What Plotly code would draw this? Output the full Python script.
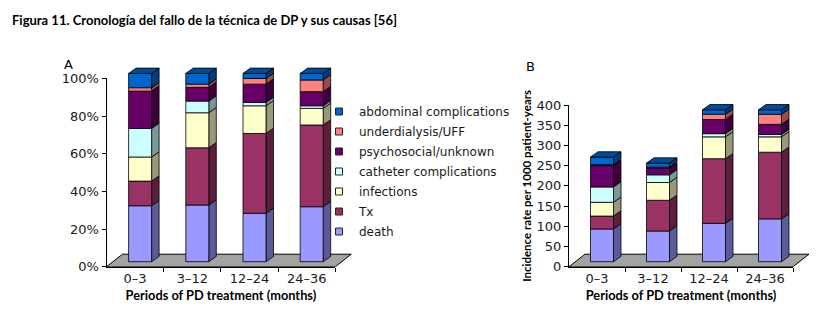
import plotly.graph_objects as go

# ---------------- data ----------------
categories = ["0–3", "3–12", "12–24", "24–36"]
series_names = ["death", "Tx", "infections", "catheter complications",
                "psychosocial/unknown", "underdialysis/UFF", "abdominal complications"]
series_colors = ["#9999FF", "#993366", "#FFFFCC", "#CCFFFF", "#660066", "#FF8080", "#0066CC"]

# Panel A: percentage of technique failures by cause
A_death = [29.7, 30.1, 25.7, 29.2]
A_tx = [13.1, 30.4, 42.4, 43.4]
A_infections = [12.8, 18.6, 14.7, 8.8]
A_catheter = [15.2, 6.2, 1.8, 1.4]
A_psychosocial = [19.8, 7.3, 9.7, 7.5]
A_underdialysis = [1.8, 1.7, 3.0, 6.2]
A_abdominal = [7.6, 5.7, 2.7, 3.5]

# Panel B: incidence rate per 1000 patient-years
B_death = [81, 76, 95, 106]
B_tx = [32, 76, 160, 165]
B_infections = [34, 44, 54, 38]
B_catheter = [38, 19, 8, 6]
B_psychosocial = [53, 17, 35, 25]
B_underdialysis = [2, 2, 13, 25]
B_abdominal = [19, 10, 11, 11]

A_ticks = [0, 20, 40, 60, 80, 100]
B_ticks = [0, 50, 100, 150, 200, 250, 300, 350, 400]

A_series = [A_death, A_tx, A_infections, A_catheter, A_psychosocial, A_underdialysis, A_abdominal]
B_series = [B_death, B_tx, B_infections, B_catheter, B_psychosocial, B_underdialysis, B_abdominal]

# ---------------- geometry / style ----------------
PAGE_OFF = 8                     # default body margin of the html page
W, H = 833 - PAGE_OFF, 328 - PAGE_OFF
TICK_FONT = dict(family="DejaVu Sans", size=13, color="#1a1a1a")
FLOOR_COLOR = "#A3A3A3"
EDGE = "#000000"


def shade(hexcol, f):
    h = hexcol.lstrip("#")
    r, g, b = (int(h[i:i + 2], 16) for i in (0, 2, 4))
    return "rgb(%d,%d,%d)" % (int(r * f), int(g * f), int(b * f))


def xd(px):
    return (px - PAGE_OFF) / W


def yd(px):
    return 1 - (px - PAGE_OFF) / H


def add_poly(fig, xs, ys, color, xa, ya, lw=0.8):
    fig.add_trace(go.Scatter(x=xs, y=ys, mode="lines", fill="toself", fillcolor=color,
                             line=dict(color=EDGE, width=lw), hoverinfo="skip",
                             showlegend=False, xaxis=xa, yaxis=ya))


def draw_panel(fig, series, xa, ya, ppx, ppy):
    # depth offsets in pixels converted to data units
    fdx, fdy = 16 / ppx, 12.5 / ppy        # floor depth
    ox, oy = 5 / ppx, 5 / ppy              # front face offset
    bdx, bdy = 7.5 / ppx, 5.3 / ppy        # bar depth
    w = 23 / ppx
    n = len(categories)
    # floor
    add_poly(fig, [-0.5, n - 0.5, n - 0.5 + fdx, -0.5 + fdx, -0.5],
             [0, 0, fdy, fdy, 0], FLOOR_COLOR, xa, ya, lw=1)
    cum = [0.0] * n
    for s_idx, vals in enumerate(series):
        col = series_colors[s_idx]
        fx, fy, sx, sy = [], [], [], []
        for i, v in enumerate(vals):
            b = cum[i] + oy
            t = cum[i] + v + oy
            xl = i + ox - w / 2
            xr = i + ox + w / 2
            fx += [xl, xr, xr, xl, xl, None]
            fy += [b, b, t, t, b, None]
            sx += [xr, xr + bdx, xr + bdx, xr, xr, None]
            sy += [b, b + bdy, t + bdy, t, b, None]
            cum[i] += v
        add_poly(fig, sx, sy, shade(col, 0.6), xa, ya)
        add_poly(fig, fx, fy, col, xa, ya)
    # top faces of the highest segment
    top_col = shade(series_colors[-1], 0.75)
    tx, ty = [], []
    for i in range(n):
        t = cum[i] + oy
        xl = i + ox - w / 2
        xr = i + ox + w / 2
        tx += [xl, xr, xr + bdx, xl + bdx, xl, None]
        ty += [t, t, t + bdy, t + bdy, t, None]
    add_poly(fig, tx, ty, top_col, xa, ya)


fig = go.Figure()

# ---- panel A ----
A_x0, A_ppx = 106.5, 57.2
A_y0, A_ppy = 266.7, 1.883
draw_panel(fig, A_series, "x", "y", A_ppx, A_ppy)
# ---- panel B ----
B_x0, B_ppx = 569.0, 56.0
B_y0, B_ppy = 266.7, 0.404
draw_panel(fig, B_series, "x3", "y3", B_ppx, B_ppy)

# anchor traces for the axis-only subplots
fig.add_trace(go.Scatter(x=[0], y=[0], mode="markers", marker=dict(opacity=0),
                         hoverinfo="skip", showlegend=False, xaxis="x2", yaxis="y2"))
fig.add_trace(go.Scatter(x=[0], y=[0], mode="markers", marker=dict(opacity=0),
                         hoverinfo="skip", showlegend=False, xaxis="x4", yaxis="y4"))

# legend entries (top to bottom: abdominal ... death)
for name, col in reversed(list(zip(series_names, series_colors))):
    fig.add_trace(go.Scatter(x=[None], y=[None], mode="markers", name=name,
                             legendgroup=name,
                             marker=dict(symbol="square", size=7, color=col,
                                         line=dict(color="#222", width=1)),
                             xaxis="x", yaxis="y"))

extra_x = 32
extra_y = 26
hidden = dict(visible=False, fixedrange=True)
layout_axes = dict(
    xaxis=dict(domain=[xd(A_x0), xd(A_x0 + 4 * A_ppx + extra_x)],
               range=[-0.5, 3.5 + extra_x / A_ppx], anchor="y", **hidden),
    yaxis=dict(domain=[yd(A_y0), yd(A_y0 - 100 * A_ppy - extra_y)],
               range=[0, 100 + extra_y / A_ppy], anchor="x", **hidden),
    xaxis3=dict(domain=[xd(B_x0), xd(B_x0 + 4 * B_ppx + extra_x)],
                range=[-0.5, 3.5 + extra_x / B_ppx], anchor="y3", **hidden),
    yaxis3=dict(domain=[yd(B_y0), yd(B_y0 - 400 * B_ppy - extra_y)],
                range=[0, 400 + extra_y / B_ppy], anchor="x3", **hidden),
)


def cat_axis(x0, ppx, anchor):
    return dict(domain=[xd(x0), xd(x0 + 4 * ppx)], range=[-0.5, 3.5], anchor=anchor,
                showline=True, linecolor="#000", linewidth=1, showgrid=False, zeroline=False,
                tickmode="array", tickvals=list(range(len(categories))), ticktext=categories,
                ticks="", tickfont=TICK_FONT, fixedrange=True,
                minor=dict(tickmode="array", tickvals=[0.5, 1.5, 2.5, 3.5], ticks="outside",
                           ticklen=4, tickcolor="#000", showgrid=False),
                title=dict(text="<b>Periods of PD treatment (months)</b>",
                           font=dict(family="Lato", size=12.8, color="#000"), standoff=5))


layout_axes["xaxis2"] = cat_axis(A_x0, A_ppx, "y2")
layout_axes["xaxis4"] = cat_axis(B_x0, B_ppx, "y4")
layout_axes["yaxis2"] = dict(domain=[yd(A_y0), yd(A_y0 - 100 * A_ppy)], range=[0, 100],
                             anchor="x2", showline=True, linecolor="#000", linewidth=1,
                             showgrid=False, zeroline=False, tickmode="array",
                             tickvals=A_ticks, ticktext=["%d%%" % t for t in A_ticks],
                             ticks="outside", ticklen=4, tickcolor="#000",
                             tickfont=TICK_FONT, fixedrange=True)
layout_axes["yaxis4"] = dict(domain=[yd(B_y0), yd(B_y0 - 400 * B_ppy)], range=[0, 400],
                             anchor="x4", showline=True, linecolor="#000", linewidth=1,
                             showgrid=False, zeroline=False, tickmode="array",
                             tickvals=B_ticks, ticktext=[str(t) for t in B_ticks],
                             ticks="outside", ticklen=4, tickcolor="#000",
                             tickfont=TICK_FONT, fixedrange=True,
                             title=dict(text="<b>Incidence rate per 1000 patient-years</b>",
                                        font=dict(family="Lato", size=11.5, color="#000"),
                                        standoff=2))

fig.update_layout(
    width=W, height=H, margin=dict(l=0, r=0, t=0, b=0, pad=0, autoexpand=False),
    paper_bgcolor="white", plot_bgcolor="rgba(0,0,0,0)",
    showlegend=True,
    legend=dict(x=xd(319), y=yd(97), xanchor="left", yanchor="top",
                font=dict(family="DejaVu Sans", size=12, color="#1a1a1a"),
                itemsizing="trace", bgcolor="rgba(0,0,0,0)", traceorder="grouped",
                tracegroupgap=1),
    annotations=[
        dict(text="<b>Figura 11. Cronología del fallo de la técnica de DP y sus causas [56]</b>",
             x=xd(10), y=yd(20), xref="paper", yref="paper", xanchor="left", yanchor="middle",
             showarrow=False, font=dict(family="Lato", size=13, color="#000")),
        dict(text="A", x=xd(68), y=yd(64), xref="paper", yref="paper", xanchor="center",
             yanchor="middle", showarrow=False, font=dict(family="DejaVu Sans", size=13, color="#000")),
        dict(text="B", x=xd(530), y=yd(66), xref="paper", yref="paper", xanchor="center",
             yanchor="middle", showarrow=False, font=dict(family="DejaVu Sans", size=13, color="#000")),
    ],
    **layout_axes,
)

fig.write_html("out.html")
